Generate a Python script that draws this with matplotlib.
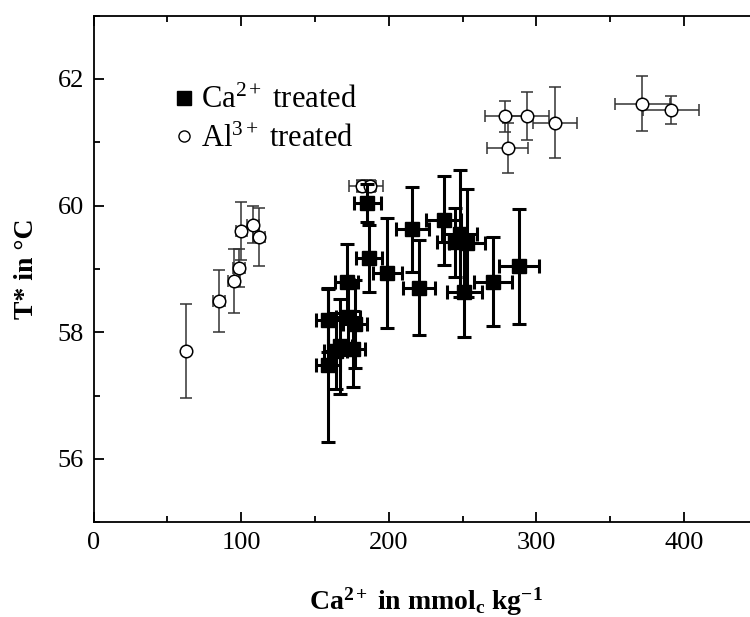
import matplotlib
matplotlib.use("Agg")
import matplotlib.pyplot as plt
from matplotlib.ticker import MultipleLocator
from matplotlib.lines import Line2D

plt.rcParams['font.family'] = ['Liberation Serif', 'DejaVu Serif']
plt.rcParams['mathtext.fontset'] = 'custom'
plt.rcParams['mathtext.rm'] = 'Liberation Serif'
plt.rcParams['mathtext.bf'] = 'Liberation Serif:bold'
plt.rcParams['mathtext.it'] = 'Liberation Serif:italic'

# Ca2+ treated
ca_x = [159, 159, 164, 167, 171.5, 172.6, 176, 177.2, 185.5, 186.7, 199.1, 216, 220.5,
        237.3, 245, 248, 253, 251.2, 270.5, 288.5]
ca_y = [58.19, 57.48, 57.71, 57.78, 58.80, 58.24, 57.73, 58.13, 60.04, 59.17, 58.94, 59.63, 58.70,
        59.77, 59.42, 59.56, 59.41, 58.64, 58.80, 59.04]
ca_xerr = [8, 8, 8, 8, 8, 8, 8, 8, 9, 9, 10, 11, 11, 12, 12, 12, 12, 12, 13, 13.5]
ca_yerr = [0.5, 1.22, 0.6, 0.75, 0.6, 0.6, 0.6, 0.7, 0.3, 0.53, 0.87, 0.67, 0.75,
           0.7, 0.55, 1.0, 0.85, 0.72, 0.7, 0.91]

# Al3+ treated
al_x = [62.9, 84.8, 95.2, 98.6, 100.2, 108.3, 112.1, 182.1, 187.3, 279.0, 280.6, 293.9,
        312.7, 371.8, 391.0]
al_y = [57.70, 58.50, 58.81, 59.01, 59.60, 59.70, 59.51, 60.31, 60.31, 61.41, 60.91, 61.41,
        61.31, 61.61, 61.51]
al_xerr = [0, 4, 4, 4, 4, 4, 4, 9, 9, 14, 14, 14.7, 15, 18.5, 19]
al_yerr = [0.745, 0.49, 0.5, 0.3, 0.46, 0.29, 0.46, 0.1, 0.1, 0.25, 0.4, 0.38, 0.56, 0.43, 0.22]

legend_labels = [r'Ca$^{2+}$ treated', r'Al$^{3+}$ treated']

fig = plt.figure(figsize=(7.5, 6.17), dpi=100)
ax = fig.add_axes([0.1247, 0.1535, 0.8856, 0.8211])

ax.errorbar(al_x, al_y, xerr=al_xerr, yerr=al_yerr, fmt='o', color='black',
            markerfacecolor='white', markeredgecolor='black', markersize=9,
            markeredgewidth=1.1, ecolor='#333333', elinewidth=1.1, capsize=4.5,
            capthick=1.1, zorder=2)
ax.errorbar(ca_x, ca_y, xerr=ca_xerr, yerr=ca_yerr, fmt='s', color='black',
            markersize=10, ecolor='black', elinewidth=2.2, capsize=5, capthick=2.2,
            zorder=3)

ax.set_xlim(0, 450)
ax.set_ylim(55, 63)
ax.xaxis.set_major_locator(MultipleLocator(100))
ax.xaxis.set_minor_locator(MultipleLocator(50))
ax.yaxis.set_major_locator(MultipleLocator(2))
ax.yaxis.set_minor_locator(MultipleLocator(1))
ax.tick_params(which='both', direction='in', top=True, right=False, width=1.3,
               labelsize=19, pad=7)
ax.tick_params(which='major', length=7)
ax.tick_params(which='minor', length=4)
for s in ax.spines.values():
    s.set_linewidth(1.3)
ax.spines['right'].set_visible(False)

ax.set_xlabel(r'Ca$^{\mathbf{2+}}$ in mmol$_{\mathbf{c}}$ kg$^{\mathbf{-1}}$',
              fontsize=20, fontweight='bold', labelpad=23)
ax.set_ylabel(r'T* in °C', fontsize=20, fontweight='bold', labelpad=13)

hs = [Line2D([], [], marker='s', color='black', linestyle='none', markersize=10),
      Line2D([], [], marker='o', markerfacecolor='white', markeredgecolor='black',
             linestyle='none', markersize=8)]
ax.legend(hs, legend_labels, loc='upper left',
          bbox_to_anchor=(0.077, 0.915), frameon=False, fontsize=22,
          handlelength=0.8, handletextpad=0.15, labelspacing=0.3)

fig.savefig('out.png', dpi=100)
